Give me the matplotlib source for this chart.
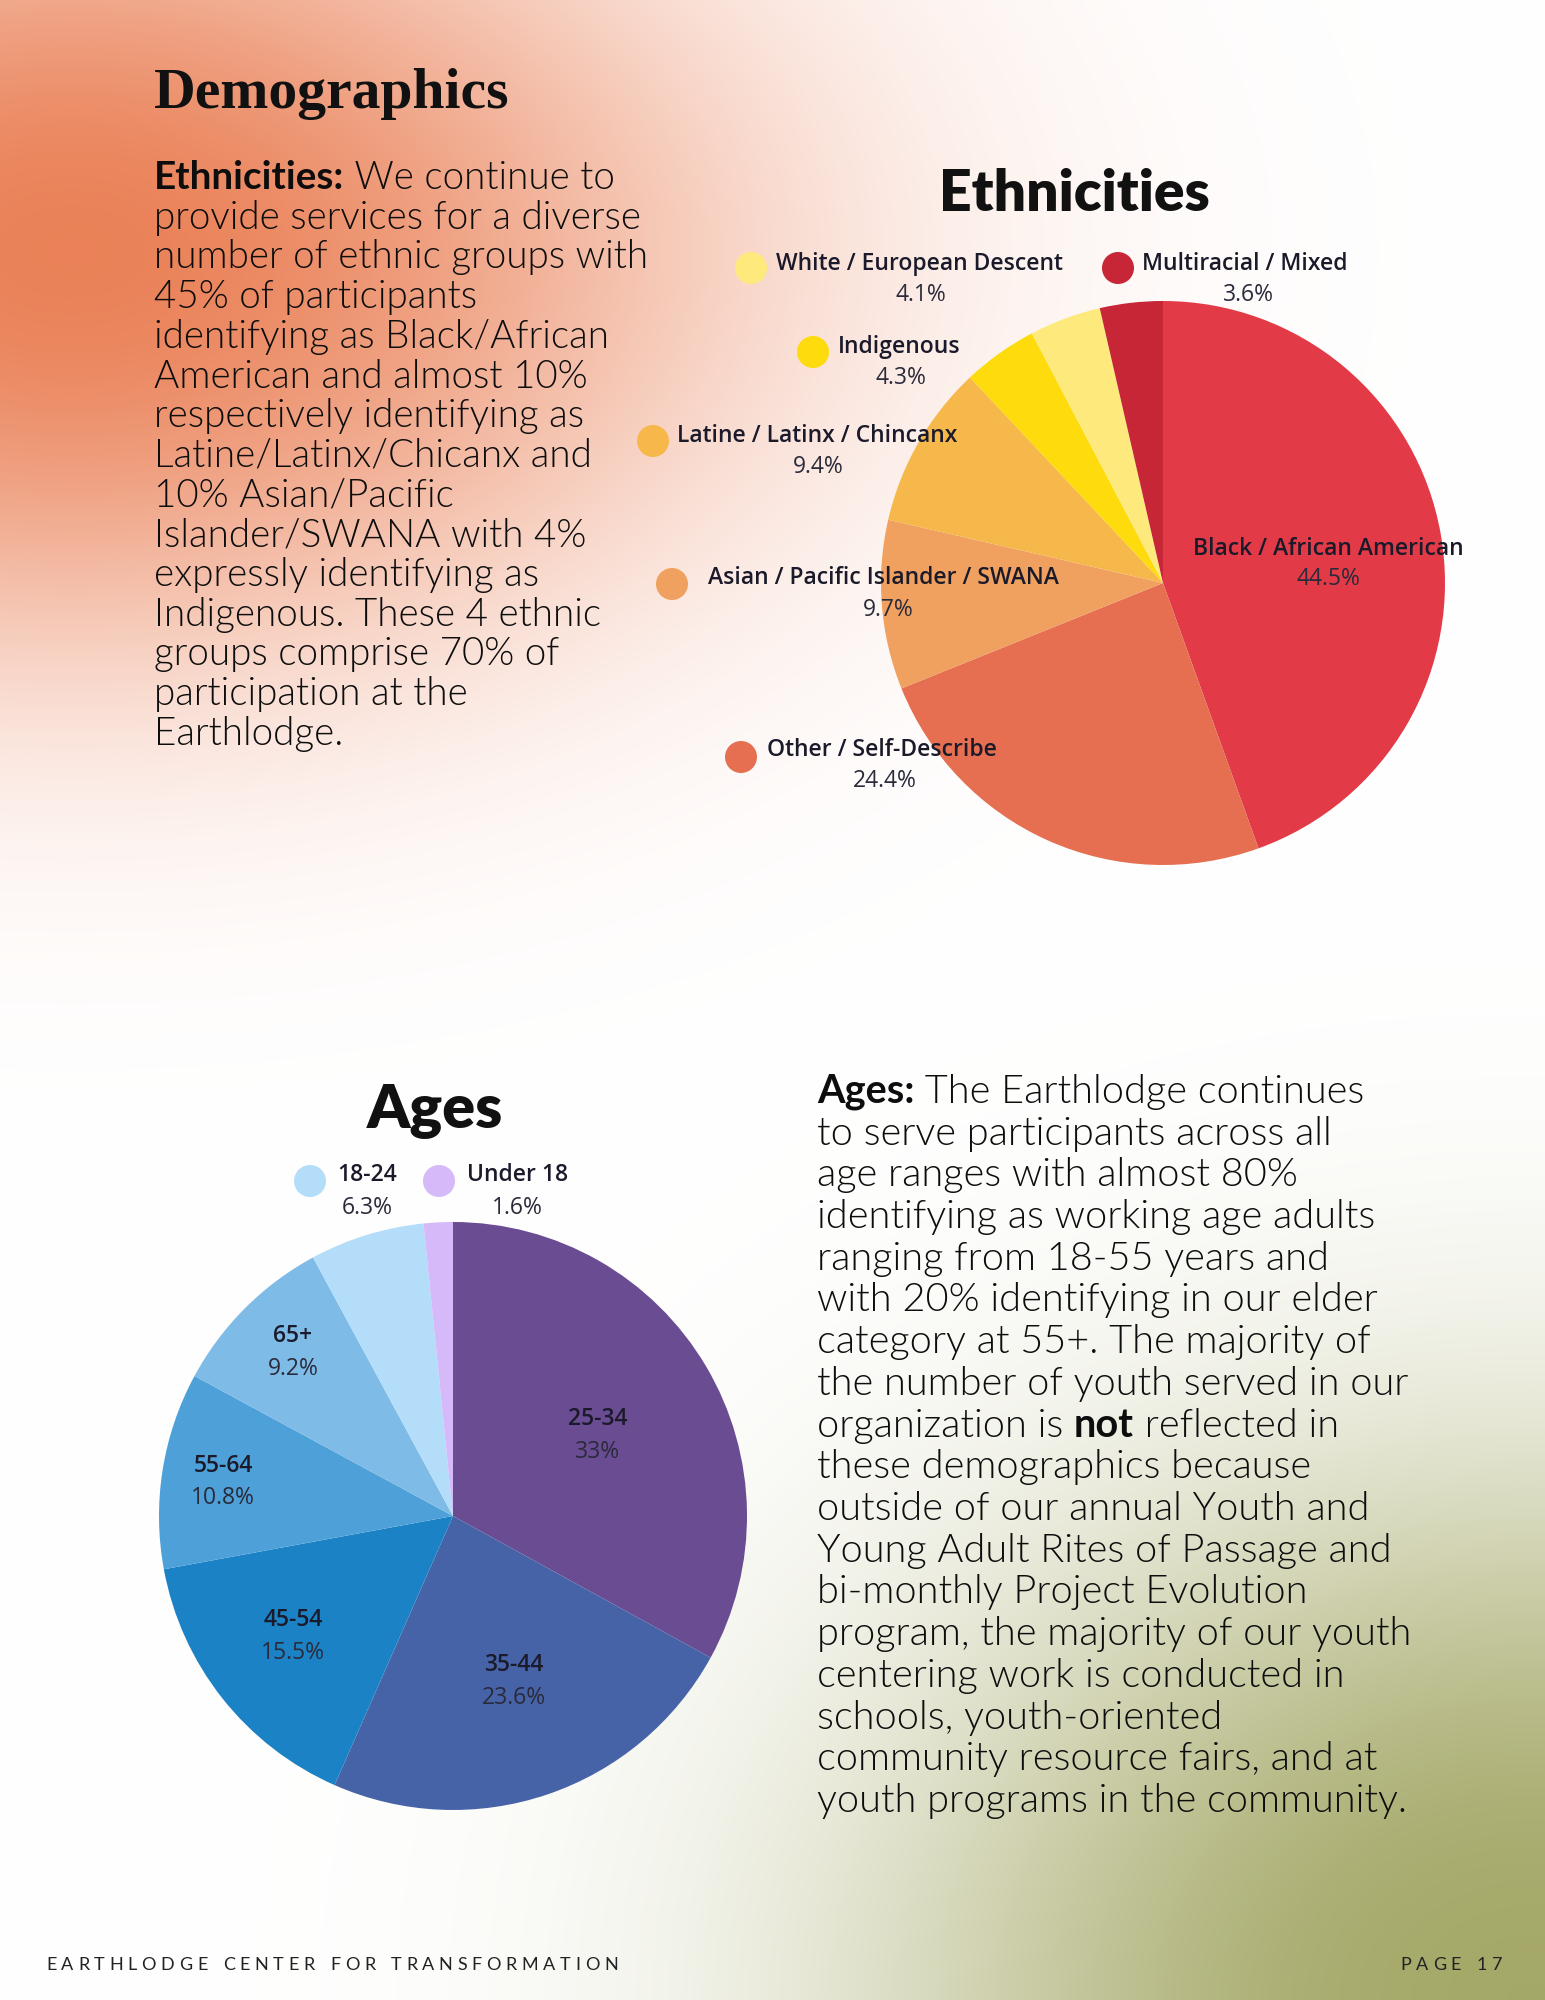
import numpy as np
import matplotlib.pyplot as plt
from matplotlib.patches import Circle

# ---- data ----
eth_labels = ["Black / African American", "Other / Self-Describe",
              "Asian / Pacific Islander / SWANA", "Latine / Latinx / Chincanx",
              "Indigenous", "White / European Descent", "Multiracial / Mixed"]
eth_values = [44.5, 24.4, 9.7, 9.4, 4.3, 4.1, 3.6]

age_labels = ["25-34", "35-44", "45-54", "55-64", "65+", "18-24", "Under 18"]
age_values = [33, 23.6, 15.5, 10.8, 9.2, 6.3, 1.6]

REG = 300   # body weight (Lato Light)
eth_text = [
    [("Ethnicities:", "bold"), (" We continue to", REG)],
    [("provide services for a diverse", REG)],
    [("number of ethnic groups with", REG)],
    [("45% of participants", REG)],
    [("identifying as Black/African", REG)],
    [("American and almost 10%", REG)],
    [("respectively identifying as", REG)],
    [("Latine/Latinx/Chicanx and", REG)],
    [("10% Asian/Pacific", REG)],
    [("Islander/SWANA with 4%", REG)],
    [("expressly identifying as", REG)],
    [("Indigenous. These 4 ethnic", REG)],
    [("groups comprise 70% of", REG)],
    [("participation at the", REG)],
    [("Earthlodge.", REG)],
]

age_text = [
    [("Ages:", "bold"), (" The Earthlodge continues", REG)],
    [("to serve participants across all", REG)],
    [("age ranges with almost 80%", REG)],
    [("identifying as working age adults", REG)],
    [("ranging from 18-55 years and", REG)],
    [("with 20% identifying in our elder", REG)],
    [("category at 55+. The majority of", REG)],
    [("the number of youth served in our", REG)],
    [("organization is ", REG), ("not", "bold"), (" reflected in", REG)],
    [("these demographics because", REG)],
    [("outside of our annual Youth and", REG)],
    [("Young Adult Rites of Passage and", REG)],
    [("bi-monthly Project Evolution", REG)],
    [("program, the majority of our youth", REG)],
    [("centering work is conducted in", REG)],
    [("schools, youth-oriented", REG)],
    [("community resource fairs, and at", REG)],
    [("youth programs in the community.", REG)],
]

# ---- styles / layout ----
W, H = 1545, 2000
eth_colors = ["#E23A47", "#E56F50", "#F0A160", "#F7B84B", "#FDDB0C", "#FEEA7C", "#C62636"]
age_colors = ["#6A4C93", "#4763A8", "#1C82C6", "#4EA0D9", "#7EBBE7", "#B4DDF9", "#D5B9F8"]

# (marker x, marker y, label x, label y, pct x, pct y) in page pixels; None = no marker
eth_pos = [
    (None, None, 1328, 549, 1328, 579),
    (741, 757, 767, 750, 885, 781),
    (672, 584, 708, 578, 888, 610),
    (653, 441, 677, 436, 818, 467),
    (813, 352, 838, 347, 901, 378),
    (751, 268, 776, 264, 921, 295),
    (1118, 268, 1142, 264, 1248, 295),
]
age_pos = [
    (None, None, 598, 1419, 598, 1452),
    (None, None, 514, 1665, 514, 1698),
    (None, None, 293, 1620, 293, 1653),
    (None, None, 223, 1466, 223, 1498),
    (None, None, 293, 1336, 293, 1369),
    (310, 1181, 337, 1175, 367, 1208),
    (439, 1181, 467, 1175, 517, 1208),
]

fig = plt.figure(figsize=(W / 100, H / 100), dpi=100)

# background glows
bg = fig.add_axes([0, 0, 1, 1], zorder=0)
yy, xx = np.mgrid[0:H:4, 0:W:4].astype(float)
w1 = np.exp(-(((xx - 70) / 640) ** 2 + ((yy - 250) / 400) ** 2) ** 1.1) * 0.9
w2 = np.exp(-(((xx - 1530) / 650) ** 2 + ((yy - 2000) / 530) ** 2) ** 1.2) * 0.95
orange = np.array([232, 116, 70]) / 255
green = np.array([160, 164, 96]) / 255
img = np.ones(xx.shape + (3,))
img = img * (1 - w1[..., None]) + orange * w1[..., None]
img = img * (1 - w2[..., None]) + green * w2[..., None]
bg.imshow(img, extent=[0, W, H, 0], aspect="auto", interpolation="bilinear")
bg.set_xlim(0, W)
bg.set_ylim(H, 0)
bg.axis("off")


def pie_axes(cx, cy, r):
    return fig.add_axes([(cx - r) / W, (H - cy - r) / H, 2 * r / W, 2 * r / H], zorder=2)


ax1 = pie_axes(1163, 583, 282)
ax1.pie(eth_values, colors=eth_colors, startangle=90, counterclock=False,
        wedgeprops=dict(linewidth=0))
ax1.set_xlim(-1, 1)
ax1.set_ylim(-1, 1)

ax2 = pie_axes(453, 1516, 294)
ax2.pie(age_values, colors=age_colors, startangle=90, counterclock=False,
        wedgeprops=dict(linewidth=0))
ax2.set_xlim(-1, 1)
ax2.set_ylim(-1, 1)

# overlay for text in page pixels
ov = fig.add_axes([0, 0, 1, 1], zorder=3)
ov.set_xlim(0, W)
ov.set_ylim(H, 0)
ov.axis("off")
ov.patch.set_alpha(0)

renderer = fig.canvas.get_renderer()
BODY = "Lato"
LAB = "Open Sans"


def rich_line(x, y, parts, size):
    for s, wt in parts:
        t = ov.text(x, y, s, fontsize=size, fontweight=wt, family=BODY,
                    color="#0d0d0d", va="baseline", ha="left")
        x += t.get_window_extent(renderer=renderer).width


def spaced(x, y, s, size, track, ha="left"):
    widths = []
    for ch in s:
        t = ov.text(0, 0, ch if ch != " " else "n", fontsize=size, family=BODY)
        widths.append(t.get_window_extent(renderer=renderer).width * (0.6 if ch == " " else 1))
        t.remove()
    total = sum(widths) + track * (len(s) - 1)
    if ha == "right":
        x -= total
    for ch, w in zip(s, widths):
        ov.text(x, y, ch, fontsize=size, family=BODY, color="#222222", va="center")
        x += w + track


ov.text(154, 108, "Demographics", fontsize=41.5, fontweight="bold",
        family="Liberation Serif", color="#111111", va="baseline")

for i, parts in enumerate(eth_text):
    rich_line(154, 189 + i * 39.7, parts, 27.8)
for i, parts in enumerate(age_text):
    rich_line(817, 1103 + i * 41.7, parts, 28.6)

ov.text(1074, 194, "Ethnicities", fontsize=41, fontweight="heavy", family=BODY,
        color="#111111", ha="center", va="center")
ov.text(435, 1110, "Ages", fontsize=44, fontweight="heavy", family=BODY,
        color="#111111", ha="center", va="center")


def pie_labels(labels, values, colors, pos):
    for lab, v, c, (mx, my, lx, ly, px, py) in zip(labels, values, colors, pos):
        if mx is None:
            ov.text(lx, ly, lab, fontsize=16.5, fontweight="semibold", family=LAB,
                    color="#1a1a2a", ha="center", va="center")
        else:
            ov.add_patch(Circle((mx, my), 16, color=c, lw=0))
            ov.text(lx, ly, lab, fontsize=16.5, fontweight="semibold", family=LAB,
                    color="#1a1a2a", ha="left", va="center")
        ov.text(px, py, f"{v:g}%", fontsize=16.5, family=LAB,
                color="#2a2a3a", ha="center", va="center")


pie_labels(eth_labels, eth_values, eth_colors, eth_pos)
pie_labels(age_labels, age_values, age_colors, age_pos)

spaced(46, 1965, "EARTHLODGE CENTER FOR TRANSFORMATION", 13, 4.7)
spaced(1502, 1965, "PAGE 17", 13, 4.7, ha="right")

fig.savefig("out.png", dpi=100)
